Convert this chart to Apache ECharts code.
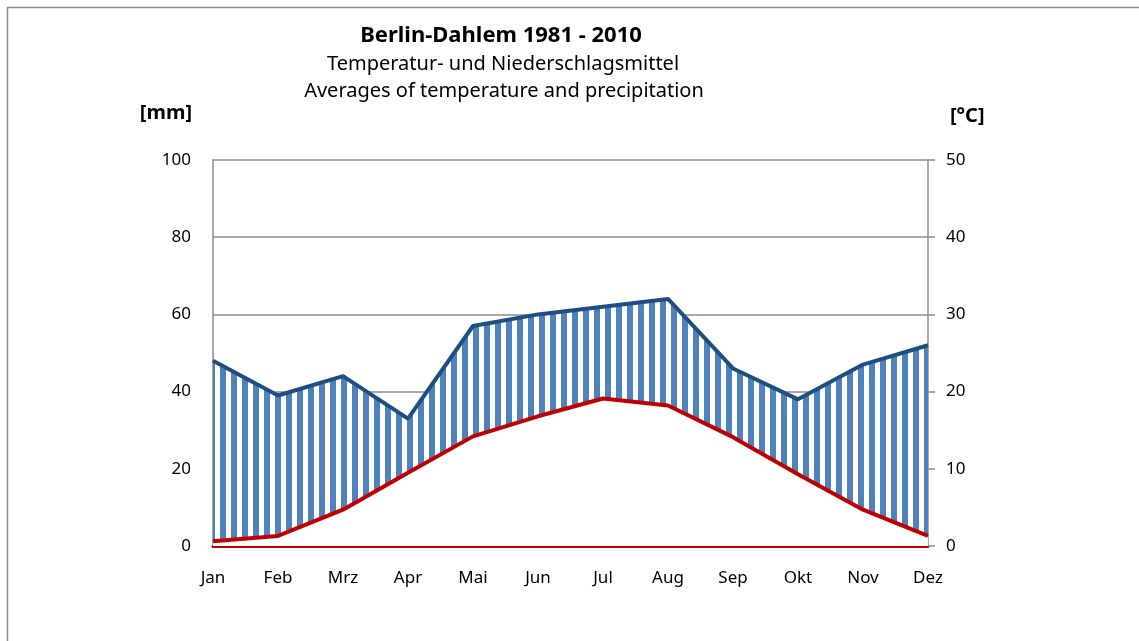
<!DOCTYPE html>
<html>
<head>
<meta charset="utf-8">
<title>Berlin-Dahlem 1981 - 2010</title>
<script src="https://cdn.jsdelivr.net/npm/echarts@6.0.0/dist/echarts.min.js"></script>
<style>
    html, body { margin: 0; padding: 0; background: #ffffff; }
    #char1 { width: 1139px; height: 641px; }
</style>
</head>
<body>
<div id="char1"></div>
<script>
// Monatsmittel Berlin-Dahlem 1981-2010
var months = ["Jan", "Feb", "Mrz", "Apr", "Mai", "Jun", "Jul", "Aug", "Sep", "Okt", "Nov", "Dez"];
var precipitation = [48, 39, 44, 33, 57, 60, 62, 64, 46, 38, 47, 52];            // mm
var temperature = [0.6, 1.3, 4.7, 9.5, 14.2, 16.8, 19.1, 18.2, 14.1, 9.3, 4.7, 1.3]; // °C
var mmTicks = [0, 20, 40, 60, 80, 100];
var tempTicks = [0, 10, 20, 30, 40, 50];

var font = "'Noto Sans', 'Open Sans', sans-serif";

// vertical stripes for the humid period
function stripePattern() {
    var c = document.createElement("canvas");
    c.width = 11;
    c.height = 11;
    var ctx = c.getContext("2d");
    ctx.fillStyle = "#ffffff";
    ctx.fillRect(0, 0, 11, 11);
    ctx.fillStyle = "#4F81BD";
    ctx.fillRect(0, 0, 6, 11);
    return c;
}

function char1() {
    var myChart = echarts.init(document.getElementById("char1"));

    var option = {
        backgroundColor: "#ffffff",
        animation: false,
        textStyle: { fontFamily: font },
        graphic: [
            {
                type: "rect",
                silent: true,
                shape: { x: 7.5, y: 7.5, width: 1300, height: 800 },
                style: { fill: "none", stroke: "#8c8c8c", lineWidth: 1.5 },
            },
            {
                type: "text", x: 501, y: 36,
                style: { text: "Berlin-Dahlem 1981 - 2010", font: "bold 22px " + font, fill: "#000", textAlign: "center", textVerticalAlign: "middle" },
            },
            {
                type: "text", x: 503, y: 64,
                style: { text: "Temperatur- und Niederschlagsmittel", font: "20px " + font, fill: "#000", textAlign: "center", textVerticalAlign: "middle" },
            },
            {
                type: "text", x: 504, y: 91,
                style: { text: "Averages of temperature and precipitation", font: "20px " + font, fill: "#000", textAlign: "center", textVerticalAlign: "middle" },
            },
        ],
        grid: {
            left: 213,
            right: 211,
            top: 160,
            bottom: 95,
            containLabel: false,
        },
        xAxis: {
            type: "category",
            data: months,
            boundaryGap: false,
            axisLine: { lineStyle: { color: "#C00000", width: 3 } },
            axisTick: { show: false },
            axisLabel: { color: "#000", fontSize: 17, margin: 24, fontFamily: font },
        },
        yAxis: [
            {
                type: "value",
                min: mmTicks[0],
                max: mmTicks[mmTicks.length - 1],
                interval: mmTicks[1] - mmTicks[0],
                name: "[mm]",
                nameLocation: "end",
                nameGap: 37,
                nameTextStyle: { color: "#000", fontSize: 20, fontWeight: "bold", align: "right", padding: [0, 21, 0, 0], fontFamily: font },
                axisLine: { show: true, lineStyle: { color: "#8c8c8c", width: 1.5 } },
                axisTick: { show: false },
                axisLabel: { color: "#000", fontSize: 17, margin: 22, fontFamily: font },
                splitLine: { lineStyle: { color: "#8c8c8c", width: 1.5 } },
            },
            {
                type: "value",
                min: tempTicks[0],
                max: tempTicks[tempTicks.length - 1],
                interval: tempTicks[1] - tempTicks[0],
                name: "[°C]",
                nameLocation: "end",
                nameGap: 34,
                nameTextStyle: { color: "#000", fontSize: 20, fontWeight: "bold", align: "left", padding: [0, 0, 0, 22], fontFamily: font },
                axisLine: { show: true, lineStyle: { color: "#8c8c8c", width: 1.5 } },
                axisTick: { show: true, length: 7, lineStyle: { color: "#8c8c8c", width: 1.5 } },
                axisLabel: { color: "#000", fontSize: 17, margin: 18, fontFamily: font },
                splitLine: { show: false },
            },
        ],
        series: [
            {
                name: "Niederschlag",
                type: "line",
                yAxisIndex: 0,
                data: precipitation,
                symbol: "none",
                z: 2,
                lineStyle: { color: "#1F4E82", width: 4 },
                areaStyle: {
                    color: { image: stripePattern(), repeat: "repeat" },
                    opacity: 1,
                },
            },
            {
                name: "Temperatur",
                type: "line",
                yAxisIndex: 1,
                data: temperature,
                symbol: "none",
                z: 3,
                lineStyle: { color: "#C00000", width: 4 },
                areaStyle: { color: "#ffffff", opacity: 1 },
            },
        ],
    };

    myChart.setOption(option);
    window.addEventListener("resize", function () {
        myChart.resize();
    });
}

char1();
</script>
</body>
</html>
